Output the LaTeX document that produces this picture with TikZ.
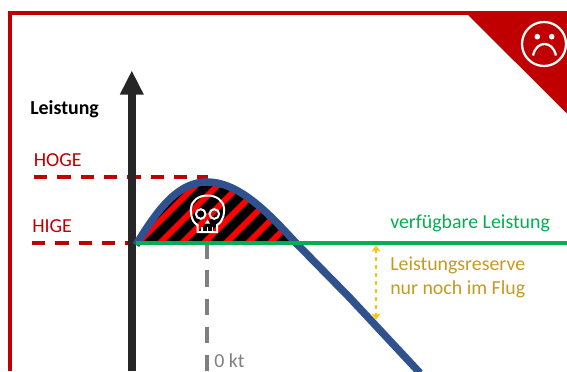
\documentclass[tikz,border=0pt]{standalone}
\usepackage{fontspec}
\usetikzlibrary{arrows.meta}
\setmainfont{Carlito}
\definecolor{cred}{HTML}{C00000}
\definecolor{cblue}{HTML}{2F528F}
\definecolor{cgreen}{HTML}{00B050}
\definecolor{cgold}{HTML}{C49A22}
\definecolor{caxis}{HTML}{262626}
\definecolor{cgray}{HTML}{7F7F7F}
\definecolor{cyel}{HTML}{FFC000}
\tikzset{
  lab/.style={anchor=west,inner sep=0pt,font=\fontsize{14.9pt}{17pt}\selectfont},
  px/.style={x=0.75pt,y=-0.75pt},
  reddash/.style={draw=cred,line width=3pt,dash pattern=on 10pt off 7.5pt}
}
\begin{document}
\begin{tikzpicture}[px]
\useasboundingbox (0,0) rectangle (567,371);
% frame
\fill[cred] (8,11) rectangle (567,15);
\fill[cred] (8,11) rectangle (11.5,371);
\fill[cred] (466,13) -- (567,13) -- (567,113.5) -- cycle;
% sad face
\draw[white,line width=1.7pt] (544,44) circle (22);
\fill[white] (537.3,36.7) circle (2.8) (551.7,36.7) circle (2.8);
\draw[white,line width=1.7pt] (533,55.5) .. controls (535,47) and (540,44) .. (544.5,44) .. controls (549,44) and (554,47) .. (556,55.5);
% hatched area
\begin{scope}
\clip (136,243) .. controls (160,205) and (180,182) .. (207,182) .. controls (240,182) and (270,215) .. (296,243) -- cycle;
\fill[black] (130,175) rectangle (300,245);
\foreach \i in {-3,...,8}
  \draw[red,line width=4.4pt] ({153+\i*22},250) -- ++(80,-80);
\end{scope}
% skull
\begin{scope}[white,line width=1.5pt]
\draw (197.5,232) -- (197.5,225) .. controls (190,221) and (191,210) .. (191,208)
  .. controls (192,200) and (199,195.5) .. (207.5,195.5)
  .. controls (216,195.5) and (223,200) .. (224,208)
  .. controls (224.5,212) and (224,221) .. (217,225) -- (217,232) -- cycle;
\draw (200.7,214) circle (4.8) (214.3,214) circle (4.8);
\fill (207.5,219.5) -- (210,223.5) -- (205,223.5) -- cycle;
\draw[line width=1pt] (202,227) -- (202,232) (207.5,227) -- (207.5,232) (212.5,227) -- (212.5,232);
\end{scope}
% dashed levels
\coordinate (hogeL) at (34,177);
\coordinate (hogeR) at (208,177);
\coordinate (higeL) at (32,243);
\coordinate (higeR) at (136,243);
\draw[reddash] (hogeL) -- (hogeR);
\draw[reddash] (higeL) -- (higeR);
% gray dashed
\coordinate (gT) at (207,242);
\coordinate (gB) at (207,371);
\draw[cgray,line width=3pt,dash pattern=on 12.5pt off 8.7pt] (gT) -- (gB);
% axis
\coordinate (axB) at (131.8,371);
\coordinate (axT) at (131.8,93);
\draw[caxis,line width=6pt] (axB) -- (axT);
\fill[caxis] (131.8,71) -- (143.8,94.5) -- (119.8,94.5) -- cycle;
% curve
\draw[cblue,line width=5.6pt] (136,245) .. controls (160,205) and (180,182) .. (207,182) .. controls (240,182) and (270,215) .. (296,243) -- (350,298) -- (420,373);
% green
\coordinate (grL) at (136,243);
\coordinate (grR) at (567,243);
\draw[cgreen,line width=2.8pt] (grL) -- (grR);
% reserve arrow
\coordinate (resT) at (376,245);
\coordinate (resB) at (376,320);
\draw[cyel,line width=1.2pt,dashed,{Stealth[length=5pt,width=6.5pt,open]}-{Stealth[length=5pt,width=6.5pt,open]}] (resT) -- (resB);
% labels
\node[lab,font=\fontsize{14.9pt}{17pt}\selectfont\bfseries,text=black] (leistung) at (30,109) {Leistung};
\node[lab,text=cred] (hoge) at (33.5,160) {HOGE};
\node[lab,text=cred] (hige) at (32,226) {HIGE};
\node[lab,text=cgreen] (verf) at (390,223.5) {verfügbare Leistung};
\node[lab,text=cgold] (res1) at (390,265) {Leistungsreserve};
\node[lab,text=cgold] (res2) at (390,289) {nur noch im Flug};
\node[lab,text=cgray] (kt) at (214,360.5) {0 kt};
\end{tikzpicture}
\end{document}
